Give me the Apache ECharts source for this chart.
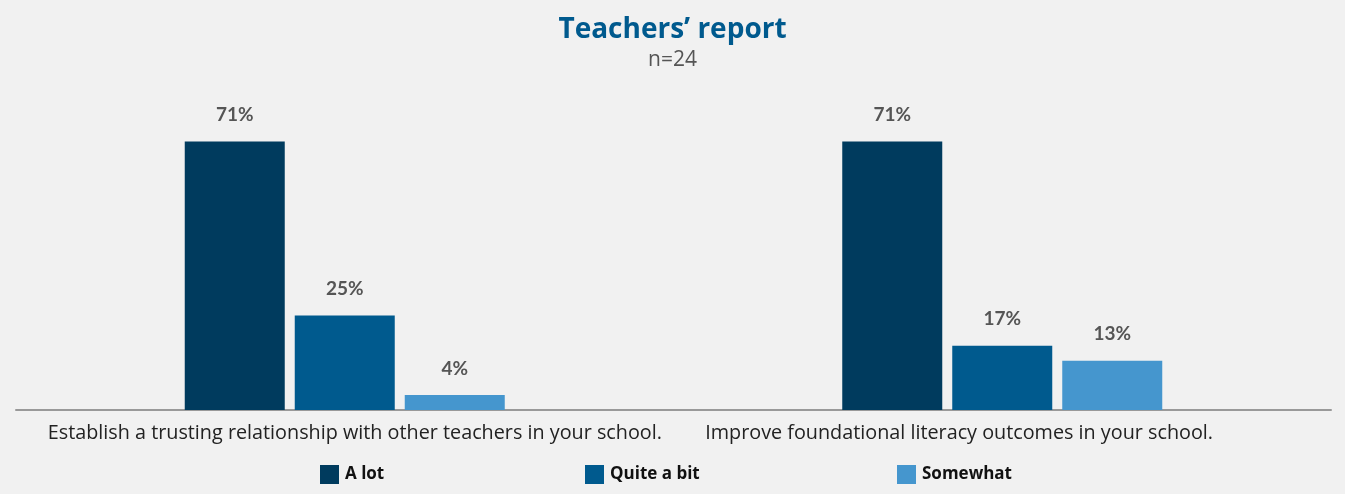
<!DOCTYPE html>
<html>
<head>
<meta charset="utf-8">
<script src="https://cdn.jsdelivr.net/npm/echarts@6/dist/echarts.min.js"></script>
<style>
  html, body { margin: 0; padding: 0; background: #f1f1f1; }
  #chart { width: 1345px; height: 494px; }
</style>
</head>
<body>
<div id="chart"></div>
<script>
var categories = [
    'Establish a trusting relationship with other teachers in your school.',
    'Improve foundational literacy outcomes in your school.'
];
var seriesNames = ['A lot', 'Quite a bit', 'Somewhat'];
var aLot = [71, 71];
var quiteABit = [25, 17];
var somewhat = [4, 13];
var colors = ['#003b5e', '#005a8e', '#4596ce'];

var myChart = echarts.init(document.getElementById('chart'));

function barSeries(name, values, color) {
    return {
        name: name,
        type: 'bar',
        data: values,
        barWidth: 100,
        barGap: '10%',
        itemStyle: { color: color },
        label: {
            show: true,
            position: 'top',
            distance: 17,
            formatter: '{c}%',
            color: '#555',
            fontWeight: 'bold',
            fontSize: 19,
            fontFamily: 'Lato'
        }
    };
}

// three legends so each item sits where the original puts it
function legendAt(name, left) {
    return {
        data: [name],
        left: left,
        top: 465,
        padding: 0,
        icon: 'rect',
        itemWidth: 19,
        itemHeight: 19,
        itemGap: 0,
        textStyle: { color: '#111', fontSize: 17, fontWeight: 'bold', fontFamily: 'Open Sans', padding: [0, 0, 0, 1] }
    };
}

var option = {
    backgroundColor: '#f1f1f1',
    title: {
        text: 'Teachers\u2019 report',
        subtext: 'n=24',
        left: 'center',
        top: 11,
        itemGap: 6,
        textStyle: { color: '#005a8e', fontSize: 28, fontWeight: 'bold', fontFamily: 'Open Sans' },
        subtextStyle: { color: '#555', fontSize: 21, fontFamily: 'Open Sans' }
    },
    legend: [
        legendAt('A lot', 320),
        legendAt('Quite a bit', 585),
        legendAt('Somewhat', 897)
    ],
    grid: { left: 16, right: 14, top: 32, bottom: 84, containLabel: false },
    xAxis: {
        type: 'category',
        data: categories,
        axisLine: { lineStyle: { color: '#999', width: 2 } },
        axisTick: { show: false },
        axisLabel: {
            interval: 0,
            margin: 13,
            // labels start near the left of each category band
            formatter: function (value) { return '{t|' + value + '}'; },
            rich: {
                t: { width: 594, align: 'left', color: '#222', fontSize: 19.8, fontFamily: 'Open Sans' }
            }
        }
    },
    yAxis: {
        type: 'value',
        min: 0,
        max: 100,
        show: false,
        splitLine: { show: false }
    },
    series: [
        barSeries(seriesNames[0], aLot, colors[0]),
        barSeries(seriesNames[1], quiteABit, colors[1]),
        barSeries(seriesNames[2], somewhat, colors[2])
    ]
};
myChart.setOption(option);
window.onresize = function () { myChart.resize(); };
</script>
</body>
</html>
